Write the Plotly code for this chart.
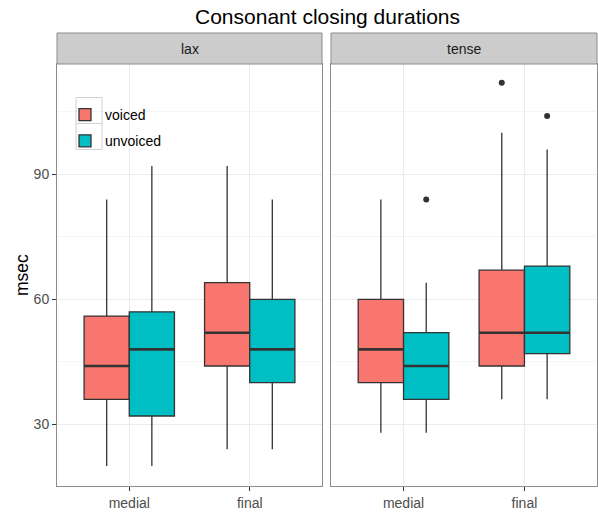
import plotly.graph_objects as go

# ---- data ----
categories = ["medial", "final"]
facets = ["lax", "tense"]
groups = ["voiced", "unvoiced"]
colors = {"voiced": "#F8766D", "unvoiced": "#00BFC4"}

# stats per facet, group: lists across categories [medial, final]
lower = {
    ("lax", "voiced"): [20, 24], ("lax", "unvoiced"): [20, 24],
    ("tense", "voiced"): [28, 36], ("tense", "unvoiced"): [28, 36],
}
q1 = {
    ("lax", "voiced"): [36, 44], ("lax", "unvoiced"): [32, 40],
    ("tense", "voiced"): [40, 44], ("tense", "unvoiced"): [36, 47],
}
median = {
    ("lax", "voiced"): [44, 52], ("lax", "unvoiced"): [48, 48],
    ("tense", "voiced"): [48, 52], ("tense", "unvoiced"): [44, 52],
}
q3 = {
    ("lax", "voiced"): [56, 64], ("lax", "unvoiced"): [57, 60],
    ("tense", "voiced"): [60, 67], ("tense", "unvoiced"): [52, 68],
}
upper = {
    ("lax", "voiced"): [84, 92], ("lax", "unvoiced"): [92, 84],
    ("tense", "voiced"): [84, 100], ("tense", "unvoiced"): [64, 96],
}
# outliers: (facet, group) -> list of (category, value)
outliers = {
    ("tense", "voiced"): [("final", 112)],
    ("tense", "unvoiced"): [("medial", 84), ("final", 104)],
}

y_ticks = [30, 60, 90]

# ---- layout geometry ----
W, H = 598, 512
panel_x = {"lax": (57, 322), "tense": (331, 597)}
panel_top, panel_bot = 64, 486
strip_top = 33

dodge = 0.75
bw = dodge / len(groups)
offsets = {g: -dodge / 2 + bw / 2 + i * bw for i, g in enumerate(groups)}
pos = {c: i + 1 for i, c in enumerate(categories)}

fig = go.Figure()
box_line = "#333333"
for fi, f in enumerate(facets):
    xa = "x" if fi == 0 else "x2"
    ya = "y" if fi == 0 else "y2"
    for g in groups:
        key = (f, g)
        xs = [pos[c] + offsets[g] for c in categories]
        fig.add_trace(go.Box(
            x=xs, q1=q1[key], median=median[key], q3=q3[key],
            lowerfence=lower[key], upperfence=upper[key],
            width=bw, fillcolor=colors[g],
            line=dict(color=box_line, width=1.3),
            whiskerwidth=0, boxpoints=False,
            name=g, legendgroup=g, showlegend=(fi == 0),
            xaxis=xa, yaxis=ya, hoverinfo="skip",
        ))
        # thicker median lines
        for x, m in zip(xs, median[key]):
            fig.add_trace(go.Scatter(
                x=[x - bw / 2, x + bw / 2], y=[m, m], mode="lines",
                line=dict(color=box_line, width=2.6),
                showlegend=False, xaxis=xa, yaxis=ya, hoverinfo="skip",
            ))
        if key in outliers:
            ox = [pos[c] + offsets[g] for c, v in outliers[key]]
            oy = [v for c, v in outliers[key]]
            fig.add_trace(go.Scatter(
                x=ox, y=oy, mode="markers",
                marker=dict(color="#333333", size=6),
                showlegend=False, xaxis=xa, yaxis=ya, hoverinfo="skip",
            ))

font_family = "Liberation Sans, Arial, sans-serif"
border = "#8C8C8C"
grid = "#EBEBEB"

ydom = [1 - panel_bot / H, 1 - panel_top / H]
common_x = dict(
    type="linear", range=[0.4, len(categories) + 0.6],
    tickvals=[pos[c] for c in categories], ticktext=categories,
    showgrid=True, gridcolor=grid, gridwidth=1,
    zeroline=False, showline=True, mirror=True, linecolor=border, linewidth=1,
    ticks="outside", ticklen=4, tickcolor="#333333",
    tickfont=dict(size=14, color="#4D4D4D", family=font_family),
)
common_y = dict(
    range=[15.2, 116.5], tickvals=y_ticks,
    showgrid=True, gridcolor=grid, gridwidth=1,
    minor=dict(dtick=15, tick0=0, showgrid=True, gridcolor="#F5F5F5", gridwidth=0.5),
    zeroline=False, showline=True, mirror=True, linecolor=border, linewidth=1,
    domain=ydom,
)

fig.update_layout(
    width=W, height=H,
    margin=dict(l=0, r=0, t=0, b=0),
    paper_bgcolor="white", plot_bgcolor="white",
    font=dict(family=font_family, color="#000000"),
    showlegend=True,
    legend=dict(
        x=65 / W, y=1 - 99 / H, xanchor="left", yanchor="top",
        bgcolor="rgba(0,0,0,0)", font=dict(size=14, color="#000000"),
        tracegroupgap=5,
    ),
    xaxis=dict(common_x, domain=[panel_x["lax"][0] / W, panel_x["lax"][1] / W], anchor="y"),
    xaxis2=dict(common_x, domain=[panel_x["tense"][0] / W, panel_x["tense"][1] / W], anchor="y2"),
    yaxis=dict(common_y, anchor="x", ticks="outside", ticklen=4, tickcolor="#333333",
               tickfont=dict(size=14, color="#4D4D4D", family=font_family)),
    yaxis2=dict(common_y, anchor="x2", matches="y", showticklabels=False, ticks=""),
)

shapes = []
annotations = []
for f in facets:
    x0, x1 = panel_x[f]
    shapes.append(dict(
        type="rect", xref="paper", yref="paper",
        x0=x0 / W, x1=x1 / W, y0=1 - panel_top / H, y1=1 - strip_top / H,
        fillcolor="#CCCCCC", line=dict(color=border, width=1), layer="above",
    ))
    annotations.append(dict(
        text=f, xref="paper", yref="paper", x=(x0 + x1) / 2 / W,
        y=1 - (panel_top + strip_top) / 2 / H, showarrow=False,
        xanchor="center", yanchor="middle",
        font=dict(size=14, color="#1A1A1A", family=font_family),
    ))
# legend key frames (ggplot style)
for i in range(len(groups)):
    shapes.append(dict(
        type="rect", xref="paper", yref="paper",
        x0=76 / W, x1=102 / W, y0=1 - (123.5 + 26 * i) / H, y1=1 - (97.5 + 26 * i) / H,
        fillcolor="rgba(0,0,0,0)", line=dict(color="#D0D0D0", width=1), layer="above",
    ))
annotations.append(dict(
    text="Consonant closing durations", xref="paper", yref="paper",
    x=(panel_x["lax"][0] + panel_x["tense"][1]) / 2 / W, y=1 - 16 / H,
    showarrow=False, xanchor="center", yanchor="middle",
    font=dict(size=21, color="#000000", family=font_family),
))
annotations.append(dict(
    text="msec", xref="paper", yref="paper", x=22 / W,
    y=1 - (panel_top + panel_bot) / 2 / H, showarrow=False, textangle=-90,
    xanchor="center", yanchor="middle",
    font=dict(size=17.5, color="#000000", family=font_family),
))
fig.update_layout(shapes=shapes, annotations=annotations)

fig.write_html(
    "out.html",
    config={"displayModeBar": False},
    post_script="document.body.style.margin='0';document.body.style.overflow='hidden';",
)
